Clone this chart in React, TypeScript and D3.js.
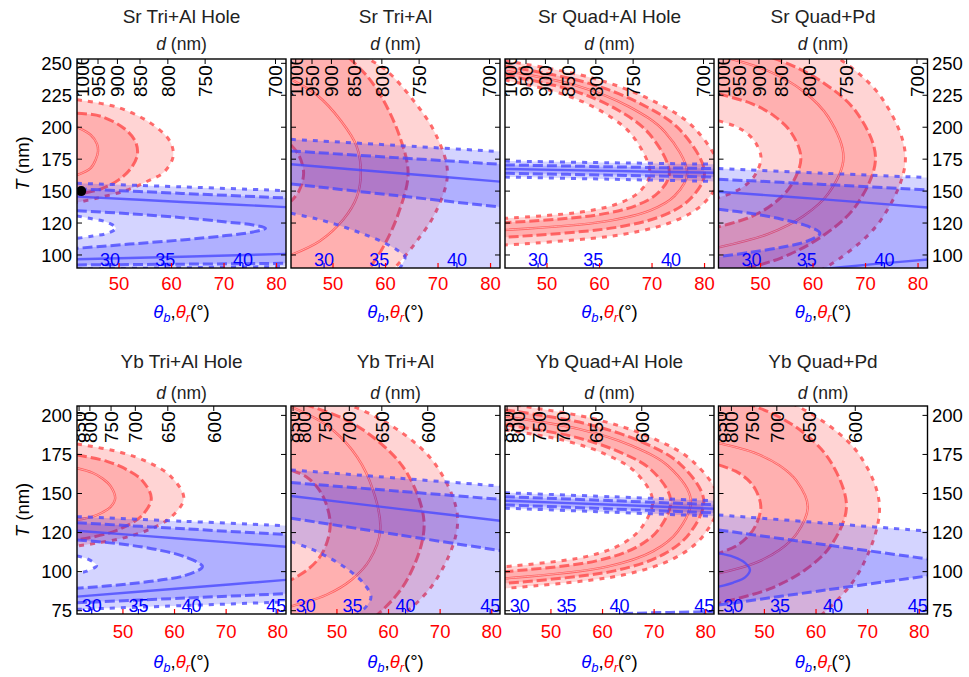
import React from "react";
import * as d3 from "d3";

type Pt = [number, number];
type Contour = { lvl: string; close?: string; pts: Pt[]; pts2?: Pt[] };

const titles = ["Sr Tri+Al Hole", "Sr Tri+Al", "Sr Quad+Al Hole", "Sr Quad+Pd", "Yb Tri+Al Hole", "Yb Tri+Al", "Yb Quad+Al Hole", "Yb Quad+Pd"];

const srTTicks = [100, 125, 150, 175, 200, 225, 250];
const srTLabels = ["100", "120", "150", "175", "200", "225", "250"];
const ybTTicks = [75, 100, 125, 150, 175, 200];
const ybTLabels = ["75", "100", "120", "150", "175", "200"];
const srTDomain = [89.8, 253.4];
const ybTDomain = [72.9, 206];
const srThetaDomain = [42, 81.8];
const ybThetaDomain = [41.1, 81.6];
const thetaRTicks = [50, 60, 70, 80];
const srThetaB = [30, 35, 40];
const srThetaBAt = [48.3, 58.8, 73.6];
const ybThetaB = [30, 35, 40, 45];
const ybThetaBAt = [43.95, 53.0, 63.3, 79.7];
const srD = [1000, 950, 900, 850, 800, 750, 700];
const srDAt = [42.9, 46.0, 49.7, 54.0, 59.3, 66.4, 79.8];
const ybD = [850, 800, 750, 700, 650, 600];
const ybDAt = [41.5, 43.6, 47.7, 52.4, 58.7, 67.6];

// ---- contours (theta_r in degrees, T in nm) ----
const p1Red: Contour[] = [
  { lvl: "dotOut", pts: [[42, 221.5], [49.7, 215.6], [56.1, 203], [59.7, 189], [60.3, 177], [58.6, 165], [55.5, 157.9], [51, 150], [45.9, 144.6], [42, 141]] },
  { lvl: "dashOut", pts: [[42, 211], [46.5, 208.6], [51, 199], [53.1, 189], [53.5, 178.5], [52.3, 168], [50, 159], [46.5, 151.5], [42, 147.5]] },
  { lvl: "solid", pts: [[42, 200], [44.6, 194], [45.8, 187], [46, 181], [45.6, 175], [44.6, 168], [42, 162.5]] },
];
const p1Blue: Contour[] = [
  { lvl: "dotOut", pts: [[42, 156.1], [62, 153.3], [83, 150.2]], pts2: [[42, 89], [62, 90], [83, 91]] },
  { lvl: "dashOut", pts: [[42, 151.8], [62, 148.2], [83, 144.4]], pts2: [[42, 92.2], [62, 92.8], [83, 93.5]] },
  { lvl: "solid", pts: [[42, 145.7], [62, 141.5], [83, 137.2]], pts2: [[42, 96.6], [62, 98.6], [83, 101]] },
  { lvl: "dashIn", pts: [[42, 134.7], [52, 132.3], [62, 129.2], [70, 126], [75.5, 123.5], [77.9, 120.9], [75.5, 118], [70, 115], [62, 111.8], [52, 108.5], [42, 105.2]] },
  { lvl: "dotIn", pts: [[42, 130.5], [45, 128.2], [47.8, 125.5], [49.4, 121], [47.8, 117], [45, 114.8], [42, 113]] },
];

const p2Red: Contour[] = [
  { lvl: "dotOut", pts: [[55.5, 256], [60, 245], [65.3, 221], [69.5, 195], [71.8, 164], [69.5, 133], [65.8, 110], [62, 91], [60.5, 85]] },
  { lvl: "dashOut", pts: [[53, 254.5], [56.5, 240], [59.2, 224], [62.5, 195], [64.3, 164], [62.5, 133], [59.8, 108], [57, 90], [55.8, 85]] },
  { lvl: "solid", pts: [[42, 237.5], [47, 225], [51.5, 205], [54.5, 185], [55.3, 164], [54.5, 145], [52, 128], [47.5, 111], [42, 100]] },
  { lvl: "dashIn", pts: [[42, 186], [43.5, 178], [44.4, 164], [43.5, 150], [42, 142]] },
];
const p2Blue: Contour[] = [
  { lvl: "dotOut", close: "B", pts: [[42, 190.5], [62, 185.8], [83, 180.6]] },
  { lvl: "dashOut", close: "B", pts: [[42, 181.4], [62, 176.2], [83, 170.7]] },
  { lvl: "solid", pts: [[42, 171], [62, 164.2], [83, 157]] },
  { lvl: "dashIn", close: "B", pts: [[42, 155.6], [62, 146.5], [83, 137]] },
  { lvl: "dotIn", pts: [[42, 132.6], [46.4, 128.7], [50.9, 123.5], [55.4, 117], [59.3, 110.4], [62.2, 103.9], [63.7, 98.7], [63.1, 92.2], [62, 86]] },
];

const p3Red: Contour[] = [
  { lvl: "dotOut", pts: [[42, 252], [58.4, 238.8], [69.9, 221.2], [78.1, 199.2], [83, 164], [80.1, 141.5], [74.8, 127.5], [64.6, 116.2], [42, 107.8]] },
  { lvl: "dashOut", pts: [[42, 247.9], [57.2, 235.3], [67.8, 218.5], [75.4, 197.6], [80, 164], [77.3, 144], [72.4, 131.4], [62.9, 121.4], [42, 113.9]] },
  { lvl: "solid", pts: [[42, 244.2], [55.9, 232.2], [65.6, 216.1], [72.5, 196.1], [76.7, 164], [74.3, 146.2], [69.8, 135.1], [61.1, 126.3], [42, 119.6]] },
  { lvl: "dashIn", pts: [[42, 240.8], [54.5, 229.3], [63.3, 213.9], [69.5, 194.7], [73.3, 164], [71.1, 148.5], [67, 138.8], [59.2, 131.1], [42, 125.3]] },
  { lvl: "dotIn", pts: [[42, 236.9], [53, 226], [60.8, 211.4], [66.3, 193.2], [69.6, 164], [67.7, 149.9], [64.1, 141.1], [57.2, 134], [42, 128.7]] },
];
const p3Blue: Contour[] = [
  { lvl: "dotOut", close: "B", pts: [[42, 173.5], [62, 172.2], [83, 171]] },
  { lvl: "dashOut", close: "B", pts: [[42, 170.5], [62, 169], [83, 167.5]] },
  { lvl: "solid", pts: [[42, 167.3], [62, 165.8], [83, 164.3]] },
  { lvl: "dashIn", close: "B", pts: [[42, 164], [62, 162.5], [83, 161]] },
  { lvl: "dotIn", close: "B", pts: [[42, 161], [62, 159.3], [83, 157.5]] },
];

const p4Red: Contour[] = [
  { lvl: "dotOut", pts: [[42, 290], [56.2, 272.9], [66.2, 250.1], [73.3, 221.6], [77.6, 176], [73.3, 129.6], [66.2, 100.6], [56.2, 77.4], [42, 60]] },
  { lvl: "dashOut", pts: [[42, 265], [54, 251.7], [62.3, 233.9], [68.3, 211.6], [71.9, 176], [68.3, 139.2], [62.3, 116.2], [54, 97.8], [42, 84]] },
  { lvl: "solid", pts: [[42, 256], [51.5, 244], [58.2, 228], [62.9, 208], [65.8, 176], [62.9, 148], [58.2, 130.5], [51.5, 116.5], [42, 106]] },
  { lvl: "dashIn", pts: [[42, 226], [48.3, 218.5], [52.7, 208.5], [55.8, 196], [57.7, 176], [55.8, 154.4], [52.7, 140.9], [48.3, 130.1], [42, 122]] },
  { lvl: "dotIn", pts: [[42, 205], [45.2, 200.7], [47.5, 194.9], [49.1, 187.6], [50.1, 176], [49.1, 163.6], [47.5, 155.9], [45.2, 149.7], [42, 145]] },
];
const p4Blue: Contour[] = [
  { lvl: "dotOut", close: "B", pts: [[42, 167.6], [62, 164], [83, 160.4]] },
  { lvl: "dashOut", close: "B", pts: [[42, 159.3], [62, 155.2], [83, 150.7]] },
  { lvl: "solid", pts: [[42, 149.5], [62, 143.5], [83, 136.8]], pts2: [[52, 85], [62, 89], [72, 93], [83, 96.8]] },
  { lvl: "dashIn", pts: [[42, 135.8], [48, 132.6], [54, 128], [59, 122.5], [61.3, 117], [59, 111], [54, 106], [48, 102], [42, 98.7]] },
];

const p5Red: Contour[] = [
  { lvl: "dotOut", pts: [[41.1, 181.7], [49.4, 176.5], [55.2, 169.6], [59.3, 160.9], [61.8, 147], [59.3, 134.8], [55.2, 127.1], [49.4, 121], [41.1, 116.4]] },
  { lvl: "dashOut", pts: [[41.1, 174.7], [46.9, 170.6], [50.9, 165], [53.8, 158.1], [55.5, 147], [53.8, 136.3], [50.9, 129.6], [46.9, 124.3], [41.1, 120.3]] },
  { lvl: "solid", pts: [[41.1, 166.2], [44.1, 163.3], [46.1, 159.5], [47.6, 154.7], [48.5, 147], [47.6, 141.4], [46.1, 138], [44.1, 135.2], [41.1, 133.1]] },
];
const p5Blue: Contour[] = [
  { lvl: "dotOut", pts: [[41.1, 135.2], [62, 132.2], [83, 129.2]], pts2: [[41.1, 75.9], [62, 78.3], [83, 80.8]] },
  { lvl: "dashOut", pts: [[41.1, 131.3], [62, 127.4], [83, 123.5]], pts2: [[41.1, 80.1], [62, 83.1], [83, 86.1]] },
  { lvl: "solid", pts: [[41.1, 126.2], [62, 120.9], [83, 115.6]], pts2: [[41.1, 84], [62, 89.5], [83, 95.1]] },
  { lvl: "dashIn", pts: [[41.1, 120.3], [50, 117.5], [57, 113.8], [62, 109.5], [65.4, 103.2], [62, 97.5], [57, 94.5], [50, 91.8], [41.1, 89.3]] },
  { lvl: "dotIn", pts: [[41.1, 110], [43, 108.3], [44.9, 104], [43, 100.3], [41.1, 98.9]] },
];

const p6Red: Contour[] = [
  { lvl: "dotOut", pts: [[41.1, 217.2], [54, 204.6], [63.1, 187.7], [69.5, 166.7], [73.4, 133], [69.5, 96.2], [63.1, 73.2], [54, 54.8], [41.1, 41]] },
  { lvl: "dashOut", pts: [[41.1, 209.7], [51.4, 197.7], [58.6, 181.8], [63.8, 161.9], [66.9, 130], [63.8, 96], [58.6, 74.7], [51.4, 57.7], [41.1, 45]] },
  { lvl: "solid", pts: [[41.1, 205.5], [48, 193.7], [52.9, 178], [56.3, 158.4], [58.4, 127], [56.3, 107.3], [52.9, 95], [48, 85.2], [41.1, 77.8]] },
  { lvl: "dashIn", pts: [[41.1, 165], [44.1, 160.6], [46.3, 153.4], [47.8, 144.4], [48.7, 130], [47.8, 116.3], [46.3, 107.7], [44.1, 100.8], [41.1, 94.7]] },
];
const p6Blue: Contour[] = [
  { lvl: "dotOut", close: "B", pts: [[41.1, 165.1], [62, 159.8], [83, 154.4]] },
  { lvl: "dashOut", close: "B", pts: [[41.1, 157], [62, 151.5], [83, 145.9]] },
  { lvl: "solid", pts: [[41.1, 148.4], [62, 140.2], [83, 132]] },
  { lvl: "dashIn", close: "B", pts: [[41.1, 134.2], [62, 123.5], [83, 112.8]] },
  { lvl: "dotIn", pts: [[41.1, 119.2], [45, 114.5], [49, 108], [52.5, 100.5], [55.3, 92], [56.6, 84], [55.5, 77], [53.5, 72]] },
];

const p7Red: Contour[] = [
  { lvl: "dotOut", pts: [[41.1, 207.5], [57.7, 198.3], [69.3, 186], [77.5, 170.6], [82.5, 146], [79.6, 123.3], [74.2, 109.1], [63.9, 97.8], [41.1, 89.3]] },
  { lvl: "dashOut", pts: [[41.1, 203.5], [56.5, 194.9], [67.3, 183.4], [75, 169], [79.6, 146], [76.9, 124.6], [71.9, 111.2], [62.3, 100.5], [41.1, 92.5]] },
  { lvl: "solid", pts: [[41.1, 199.2], [55.5, 191.2], [65.6, 180.6], [72.8, 167.3], [77.1, 146], [74.6, 125.9], [69.9, 113.3], [60.9, 103.2], [41.1, 95.7]] },
  { lvl: "dashIn", pts: [[41.1, 193.9], [53.9, 186.7], [62.9, 177.1], [69.4, 165.2], [73.2, 146], [71, 127.6], [66.8, 116.1], [58.8, 106.9], [41.1, 100]] },
  { lvl: "dotIn", pts: [[41.1, 190.7], [52.5, 184], [60.6, 175.1], [66.3, 163.9], [69.7, 146], [67.7, 128.9], [64, 118.2], [56.8, 109.6], [41.1, 103.2]] },
];
const p7Blue: Contour[] = [
  { lvl: "dotOut", close: "B", pts: [[41.1, 150.5], [62, 147.9], [83, 145.2]] },
  { lvl: "dashOut", close: "B", pts: [[41.1, 148], [62, 145.4], [83, 142.7]] },
  { lvl: "solid", pts: [[41.1, 145.4], [62, 142.8], [83, 140.1]] },
  { lvl: "dashIn", close: "B", pts: [[41.1, 142.7], [62, 140.1], [83, 137.4]] },
  { lvl: "dotIn", close: "B", pts: [[41.1, 140.6], [62, 138], [83, 135.3]] },
  { lvl: "extra", pts: [[64, 73.2], [73, 73.9], [83, 74.5]] },
];

const p8Red: Contour[] = [
  { lvl: "dotOut", pts: [[41.1, 222.2], [53.6, 210.1], [62.3, 194], [68.6, 173.8], [72.3, 141.6], [68.6, 101.2], [62.3, 76], [53.6, 55.8], [41.1, 40.7]] },
  { lvl: "dashOut", pts: [[41.1, 212.7], [51, 202], [58, 187.8], [62.9, 170], [65.9, 141.6], [62.9, 116.8], [58, 101.4], [51, 89], [41.1, 79.7]] },
  { lvl: "solid", pts: [[41.1, 182.2], [48, 176.1], [52.9, 168], [56.3, 157.8], [58.4, 141.6], [56.3, 124.5], [52.9, 113.8], [48, 105.3], [41.1, 98.9]] },
  { lvl: "dashIn", pts: [[41.1, 168.3], [44.4, 164.3], [46.7, 159], [48.3, 152.3], [49.3, 141.6], [48.3, 129.6], [46.7, 122.2], [44.4, 116.2], [41.1, 111.7]] },
];
const p8Blue: Contour[] = [
  { lvl: "dotOut", close: "B", pts: [[41.1, 136.3], [62, 131], [83, 125.6]] },
  { lvl: "dashOut", pts: [[41.1, 126.7], [62, 117.1], [83, 107.5]], pts2: [[41.1, 78.6], [62, 88.3], [83, 97.9]] },
  { lvl: "solid", pts: [[41.1, 111.7], [44, 109.5], [46.3, 105.5], [47.2, 101], [46.3, 96.5], [44, 93], [41.1, 90.4]] },
];

const redSets = [p1Red, p2Red, p3Red, p4Red, p5Red, p6Red, p7Red, p8Red];
const blueSets = [p1Blue, p2Blue, p3Blue, p4Blue, p5Blue, p6Blue, p7Blue, p8Blue];
const dotPoint: Pt = [42.8, 150];

// ---- layout ----
const W = 969, H = 677;
const panelLefts = [77, 291, 505, 718.5];
const panelW = 209;
const rowTop = [59, 406];
const rowBottom = [268, 614];
const titleY = [23, 368];
const dLabelY = [50, 399];
const dTickLabelBase = [38, 37];
const redLabelY = [290, 638];
const axisLabelY = [318, 668];
const FONT = "Liberation Sans, Arial, Helvetica, sans-serif";

const LV: Record<string, { dash?: string; w: number }> = {
  dotOut: { dash: "5 6", w: 3 },
  dotIn: { dash: "5 6", w: 3 },
  dashOut: { dash: "10 4", w: 3 },
  dashIn: { dash: "10 4", w: 3 },
  extra: { dash: "10 4", w: 3 },
  solid: { w: 2.4 },
};

function Panel({ i }: { i: number }) {
  const row = i < 4 ? 0 : 1;
  const col = i % 4;
  const left = panelLefts[col];
  const right = left + panelW;
  const top = rowTop[row];
  const bottom = rowBottom[row];
  const cx = (left + right) / 2;
  const x = d3.scaleLinear().domain(row ? ybThetaDomain : srThetaDomain).range([left, right]);
  const y = d3.scaleLinear().domain(row ? ybTDomain : srTDomain).range([bottom, top]);
  const dScale = d3.scaleLinear().domain(row ? ybD : srD).range(row ? ybDAt : srDAt);
  const bScale = d3.scaleLinear().domain(row ? ybThetaB : srThetaB).range(row ? ybThetaBAt : srThetaBAt);
  const dTicks = row ? ybD : srD;
  const bTicks = row ? ybThetaB : srThetaB;
  const tTicks = row ? ybTTicks : srTTicks;
  const tLabels = row ? ybTLabels : srTLabels;

  const line = d3.line<Pt>().x((d) => x(d[0])).y((d) => y(d[1])).curve(d3.curveCatmullRom.alpha(0.5));

  const region = (c?: Contour) => {
    if (!c) return "";
    const L = left - 80, B = bottom + 80;
    let d = line(c.pts) as string;
    let last = c.pts[c.pts.length - 1];
    if (c.pts2) {
      const rev = c.pts2.slice().reverse();
      d += "L" + (line(rev) as string).slice(1);
      last = rev[rev.length - 1];
    }
    const fy = y(c.pts[0][1]);
    const lx = x(last[0]), ly = y(last[1]);
    if (c.close === "B") d += `L${lx},${B}L${L},${B}L${L},${fy}Z`;
    else d += `L${L},${ly}L${L},${fy}Z`;
    return d;
  };

  const find = (set: Contour[], lvl: string) => set.find((c) => c.lvl === lvl);

  const drawSet = (set: Contour[], color: string, lineColor: string, key: string) => {
    const light = region(find(set, "dotOut")) + region(find(set, "dotIn"));
    const med = region(find(set, "dashOut")) + region(find(set, "dashIn"));
    return (
      <g key={key}>
        {light && <path d={light} fill={color} fillOpacity={0.17} fillRule="evenodd" />}
        {med && <path d={med} fill={color} fillOpacity={0.17} fillRule="evenodd" />}
        {set.map((c, k) => {
          const st = LV[c.lvl];
          const paths = [line(c.pts) as string];
          if (c.pts2) paths.push(line(c.pts2) as string);
          return paths.map((p, m) => (
            <g key={`${k}-${m}`}>
              <path d={p} fill="none" stroke={lineColor} strokeOpacity={0.8} strokeWidth={st.w} strokeDasharray={st.dash} />
              {c.lvl === "solid" && key === "red" && (
                <path d={p} fill="none" stroke="#ffc4c4" strokeOpacity={0.9} strokeWidth={0.8} />
              )}
            </g>
          ));
        })}
      </g>
    );
  };

  const clipId = `clip${i}`;
  return (
    <g>
      <defs>
        <clipPath id={clipId}>
          <rect x={left} y={top} width={panelW} height={bottom - top} />
        </clipPath>
      </defs>
      <g clipPath={`url(#${clipId})`}>
        {drawSet(redSets[i], "#ff0000", "#ff4a4a", "red")}
        {drawSet(blueSets[i], "#0000ff", "#4a4aff", "blue")}
        {i === 0 && <circle cx={x(dotPoint[0])} cy={y(dotPoint[1])} r={5} fill="#000" />}
        {dTicks.map((d) => (
          <text key={`dl${d}`} transform={`translate(${x(dScale(d))},${top + dTickLabelBase[row]}) rotate(-90)`} textAnchor="start" dy="0.36em" fontSize={19} fill="#000">
            {d}
          </text>
        ))}
        {bTicks.map((b) => (
          <text key={`bl${b}`} x={x(bScale(b))} y={bottom - 2.5} textAnchor="middle" fontSize={18} fill="#0000ff">
            {b}
          </text>
        ))}
      </g>
      {tTicks.map((t) => (
        <g key={`t${t}`} stroke="#000" strokeWidth={1}>
          <line x1={left} x2={left + 5} y1={y(t)} y2={y(t)} />
          <line x1={right - 5} x2={right} y1={y(t)} y2={y(t)} />
        </g>
      ))}
      {dTicks.map((d) => (
        <line key={`dt${d}`} x1={x(dScale(d))} x2={x(dScale(d))} y1={top} y2={top + 5} stroke="#000" strokeWidth={1} />
      ))}
      {thetaRTicks.map((t) => (
        <line key={`rt${t}`} x1={x(t)} x2={x(t)} y1={bottom} y2={bottom - 5} stroke="#ff0000" strokeWidth={1.2} />
      ))}
      {bTicks.map((b) => (
        <line key={`bt${b}`} x1={x(bScale(b))} x2={x(bScale(b))} y1={bottom} y2={bottom - 5} stroke="#0000ff" strokeWidth={1.2} />
      ))}
      <rect x={left} y={top} width={panelW} height={bottom - top} fill="none" stroke="#000" strokeWidth={1.4} />
      <text x={cx} y={titleY[row]} textAnchor="middle" fontSize={19} fill="#222">
        {titles[i]}
      </text>
      <text x={cx} y={dLabelY[row]} textAnchor="middle" fontSize={17.5} fill="#222">
        <tspan fontStyle="italic">d</tspan> (nm)
      </text>
      {thetaRTicks.map((t) => (
        <text key={`rl${t}`} x={x(t)} y={redLabelY[row]} textAnchor="middle" fontSize={18.5} fill="#ff0000">
          {t}
        </text>
      ))}
      <text x={cx} y={axisLabelY[row]} textAnchor="middle" fontSize={18.5} fill="#000">
        <tspan fill="#0000ff" fontStyle="italic">θ</tspan>
        <tspan fill="#0000ff" fontStyle="italic" fontSize={13} dy={4}>b</tspan>
        <tspan dy={-4}>,</tspan>
        <tspan fill="#ff0000" fontStyle="italic">θ</tspan>
        <tspan fill="#ff0000" fontStyle="italic" fontSize={13} dy={4}>r</tspan>
        <tspan dy={-4}>(°)</tspan>
      </text>
      {col === 0 &&
        tTicks.map((t, k) => (
          <text key={`yl${t}`} x={72} y={y(t)} dy="0.36em" textAnchor="end" fontSize={18.5} fill="#000">
            {tLabels[k]}
          </text>
        ))}
      {col === 3 &&
        tTicks.map((t, k) => (
          <text key={`yr${t}`} x={right + 4.5} y={y(t)} dy="0.36em" textAnchor="start" fontSize={18.5} fill="#000">
            {tLabels[k]}
          </text>
        ))}
      {col === 0 && (
        <text transform={`translate(29,${(top + bottom) / 2}) rotate(-90)`} textAnchor="middle" fontSize={18.5} fill="#000">
          <tspan fontStyle="italic">T</tspan> (nm)
        </text>
      )}
    </g>
  );
}

export default function App() {
  return (
    <svg width={W} height={H} viewBox={`0 0 ${W} ${H}`} style={{ position: "absolute", left: 0, top: 0, background: "#fff" }} fontFamily={FONT}>
      <rect x={0} y={0} width={W} height={H} fill="#fff" />
      {titles.map((_, i) => (
        <Panel key={i} i={i} />
      ))}
    </svg>
  );
}
